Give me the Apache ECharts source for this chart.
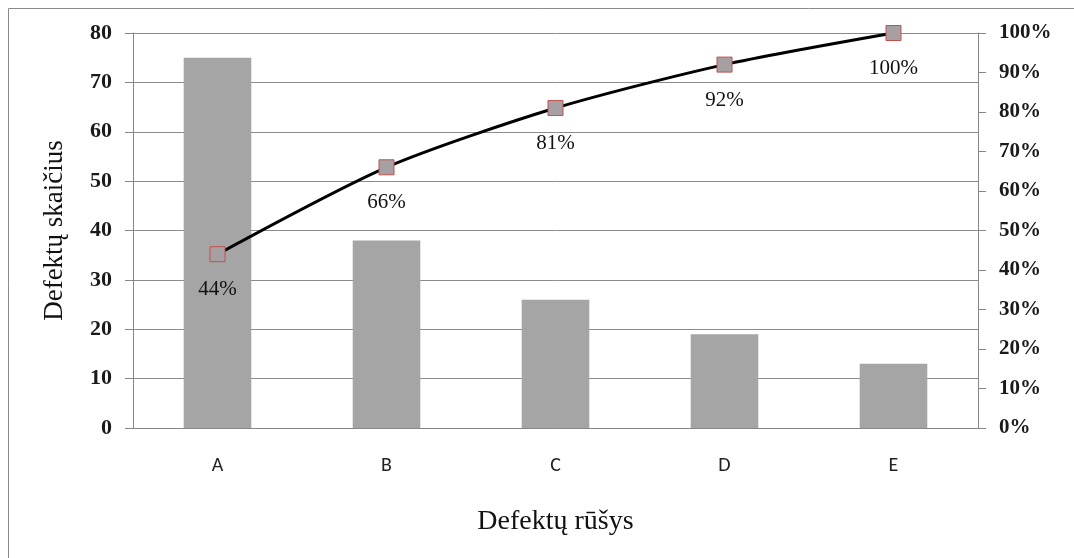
<!DOCTYPE html>
<html><head><meta charset="utf-8">
<script src="https://cdn.jsdelivr.net/npm/echarts@6/dist/echarts.min.js"></script>
<style>html,body{margin:0;padding:0;background:#fff}#c{width:1074px;height:558px}</style>
</head><body><div id="c"></div>
<script>
const categories = ['A','B','C','D','E'];
const counts = [75, 38, 26, 19, 13];
const cumulative = [44, 66, 81, 92, 100];

const chart = echarts.init(document.getElementById('c'));
const serif = '"Liberation Serif","DejaVu Serif",serif';
const sans = 'Carlito,"Liberation Sans","DejaVu Sans",sans-serif';
chart.setOption({
  animation: false,
  graphic: [{type:'rect', shape:{x:8.5,y:8.5,width:1100,height:600}, style:{fill:'none', stroke:'#8a8a8a', lineWidth:1}}],
  grid: {left:133, right:96, top:33, bottom:130},
  xAxis: {
    type:'category', data: categories,
    name:'Defektų rūšys', nameLocation:'middle', nameGap:80,
    nameTextStyle:{fontFamily:serif, fontSize:28, color:'#111'},
    axisLine:{lineStyle:{color:'#868686'}},
    axisTick:{length:7, lineStyle:{color:'#868686'}},
    axisLabel:{fontFamily:sans, fontSize:20, color:'#222', margin:28}
  },
  yAxis: [{
    type:'value', min:0, max:80, interval:10,
    name:'Defektų skaičius', nameLocation:'middle', nameGap:65, nameRotate:90,
    nameTextStyle:{fontFamily:serif, fontSize:27, color:'#111'},
    axisLine:{show:true, lineStyle:{color:'#868686'}},
    axisTick:{show:true, length:8, lineStyle:{color:'#868686'}},
    splitLine:{lineStyle:{color:'#8c8c8c'}},
    axisLabel:{fontFamily:serif, fontSize:22, fontWeight:'bold', color:'#1a1a1a', margin:21}
  },{
    type:'value', min:0, max:100, interval:10, position:'right',
    axisLine:{show:true, lineStyle:{color:'#868686'}},
    axisTick:{show:true, length:8, lineStyle:{color:'#868686'}},
    splitLine:{show:false},
    axisLabel:{fontFamily:serif, fontSize:21, fontWeight:'bold', color:'#1a1a1a', margin:21, formatter:'{value}%'}
  }],
  series: [{
    type:'bar', data: counts, yAxisIndex:0, barWidth:'40%',
    itemStyle:{color:'#a5a5a5'}
  },{
    type:'line', data: cumulative, yAxisIndex:1,
    symbol:'rect', symbolSize:15, smooth:0.25,
    lineStyle:{color:'#000', width:3},
    itemStyle:{color:'#a6a0a2', borderColor:'#c0504d', borderWidth:1},
    label:{show:true, position:'bottom', distance:17, formatter:'{c}%', fontFamily:serif, fontSize:21, color:'#111'}
  }]
});
</script></body></html>
